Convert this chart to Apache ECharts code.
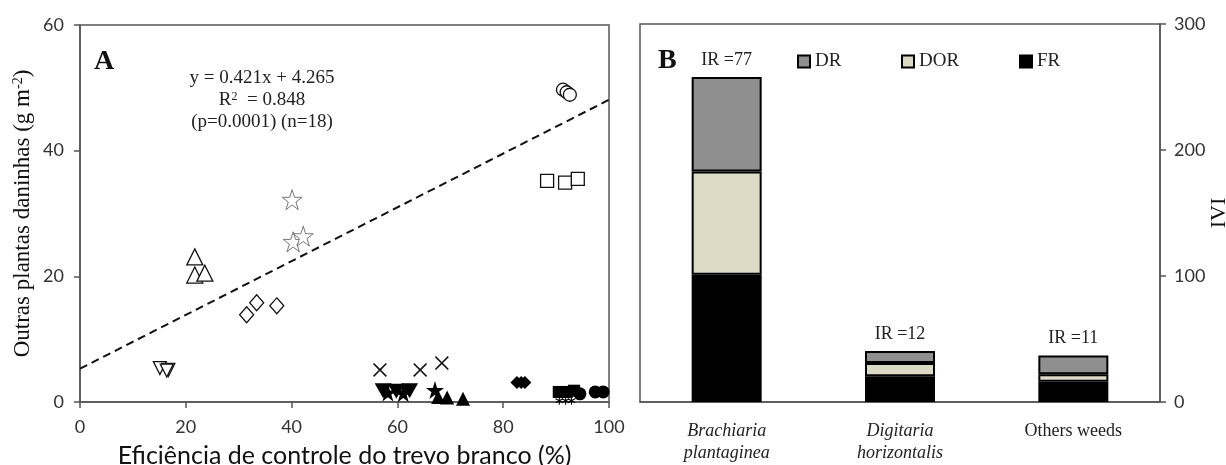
<!DOCTYPE html>
<html><head><meta charset="utf-8">
<script src="https://cdn.jsdelivr.net/npm/echarts@6/dist/echarts.min.js"></script>
<style>html,body{margin:0;padding:0;background:#fff}#c{width:1226px;height:465px}</style>
</head><body><div id="c"></div>
<script>
// ---------- Panel A data (x = control efficiency %, y = other weeds g m-2) ----------
const openCircles   = [[91.3,49.7],[92.0,49.3],[92.6,48.9]];
const openSquares   = [[88.3,35.2],[91.7,34.9],[94.1,35.5]];
const openStars     = [[40.1,32.2],[40.3,25.5],[42.2,26.4]];
const openTriangles = [[21.7,23.1],[21.7,20.2],[23.6,20.5]];
const openDiamonds  = [[31.5,13.9],[33.4,15.8],[37.2,15.3]];
const openDownTri   = [[15.1,5.4],[16.7,5.1],[16.4,5.0]];
const crosses       = [[56.7,5.1],[64.3,5.1],[68.4,6.2]];
const filledDownTri = [[57.3,1.8],[59.8,1.7],[62.3,1.8]];
const filledStars   = [[58.2,1.5],[61.1,1.4],[67.1,1.9]];
const filledTri     = [[67.7,0.8],[69.4,0.7],[72.4,0.5]];
const filledDiamonds= [[82.6,3.1],[83.4,3.1],[84.1,3.1]];
const filledSquares = [[90.5,1.6],[92.0,1.6],[93.4,1.8]];
const filledCircles = [[94.5,1.3],[97.4,1.6],[98.9,1.6]];
const asterisks     = [[90.6,0.2],[91.8,0.2],[92.9,0.2]];
const regressionLine = [[0,5.3],[100,48.1]];
const equationLines = ['y = 0.421x + 4.265', 'R{sup|2}  = 0.848', '(p=0.0001) (n=18)'];

// ---------- Panel B data ----------
const categories = ['Brachiaria\nplantaginea', 'Digitaria\nhorizontalis', 'Others weeds'];
const frValues  = [101, 20.5, 16];
const dorValues = [82, 10.5, 6];
const drValues  = [75, 9.5, 15];
const irLabels  = ['IR =77', 'IR =12', 'IR =11'];

const SERIF = '"Liberation Serif", "DejaVu Serif", serif';
const SANS = 'Lato, "Open Sans", sans-serif';
const STAR = 'path://M50,0 L61.2,34.5 L97.6,34.5 L68.2,55.9 L79.4,90.5 L50,69.1 L20.6,90.5 L31.8,55.9 L2.4,34.5 L38.8,34.5 Z';
const XPATH = 'path://M8,0 L50,42 L92,0 L100,8 L58,50 L100,92 L92,100 L50,58 L8,100 L0,92 L42,50 L0,8 Z';
const ASTER = 'path://M44,0 L56,0 L56,38 L88,20 L94,30 L62,50 L94,70 L88,80 L56,62 L56,100 L44,100 L44,62 L12,80 L6,70 L38,50 L6,30 L12,20 L44,38 Z';

function sc(data, symbol, size, fill, stroke, bw, rotate){
  return {type:'scatter', xAxisIndex:0, yAxisIndex:0, data:data, symbol:symbol,
    symbolSize:size, symbolRotate:rotate||0, z:3,
    itemStyle:{color:fill, borderColor:stroke, borderWidth:bw, opacity:1},
    emphasis:{disabled:true}};
}

const axisColor = '#555';
const legendText = {fontFamily:SERIF, fontSize:19, color:'#222'};
const chart = echarts.init(document.getElementById('c'));
const option = {
  animation:false,
  backgroundColor:'#fff',
  grid:[
    {left:80, right:617, top:25, bottom:63, show:true, borderColor:axisColor, borderWidth:1.5, backgroundColor:'transparent', containLabel:false, outerBoundsMode:'none'},
    {left:640, right:66, top:24, bottom:63, show:true, borderColor:axisColor, borderWidth:1.5, backgroundColor:'transparent', containLabel:false, outerBoundsMode:'none'}
  ],
  legend:[
    {data:['DR'], left:792, top:47, itemWidth:12, itemHeight:12, itemGap:4, icon:'rect', textStyle:legendText},
    {data:['DOR'], left:896, top:47, itemWidth:12, itemHeight:12, itemGap:4, icon:'rect', textStyle:legendText},
    {data:['FR'], left:1014, top:47, itemWidth:12, itemHeight:12, itemGap:4, icon:'rect', textStyle:legendText}
  ],
  xAxis:[
    {type:'value', gridIndex:0, min:0, max:100, interval:20,
     name:'Eficiência de controle do trevo branco (%)', nameLocation:'middle', nameGap:41,
     nameTextStyle:{fontFamily:SANS, fontSize:25, color:'#111'},
     axisLine:{lineStyle:{color:axisColor, width:1.5}}, axisTick:{length:6, lineStyle:{color:axisColor, width:1.5}},
     axisLabel:{fontFamily:SANS, fontSize:18, color:'#333', margin:16}, splitLine:{show:false}},
    {type:'category', gridIndex:1, data:categories,
     axisLine:{lineStyle:{color:axisColor, width:1.5}}, axisTick:{length:6, lineStyle:{color:axisColor, width:1.5}},
     axisLabel:{margin:18, lineHeight:22, formatter:function(v){
        if(v.indexOf('\n')>=0){ return v.split('\n').map(function(s){return '{i|'+s+'}';}).join('\n'); }
        return '{n|'+v+'}'; },
       rich:{i:{fontFamily:SERIF, fontStyle:'italic', fontSize:18, color:'#222', lineHeight:22},
             n:{fontFamily:SERIF, fontSize:18, color:'#222', lineHeight:22}}}}
  ],
  yAxis:[
    {type:'value', gridIndex:0, min:0, max:60, interval:20,
     name:'Outras plantas daninhas (g m{sup|-2})', nameLocation:'middle', nameGap:46,
     nameTextStyle:{fontFamily:SERIF, fontSize:23, color:'#111', rich:{sup:{fontFamily:SERIF, fontSize:14, verticalAlign:'top', lineHeight:16, color:'#111'}}},
     axisLine:{lineStyle:{color:axisColor, width:1.5}}, axisTick:{length:6, lineStyle:{color:axisColor, width:1.5}},
     axisLabel:{fontFamily:SANS, fontSize:18, color:'#333', margin:16}, splitLine:{show:false}},
    {type:'value', gridIndex:1, position:'right', min:0, max:300, interval:100,
     name:'IVI', nameLocation:'middle', nameGap:48, nameMoveOverlap:false,
     nameTextStyle:{fontFamily:SERIF, fontSize:22, color:'#111'},
     axisLine:{show:true, lineStyle:{color:axisColor, width:1.5}}, axisTick:{show:true, length:6, lineStyle:{color:axisColor, width:1.5}},
     axisLabel:{fontFamily:SANS, fontSize:18, color:'#333', margin:14}, splitLine:{show:false}}
  ],
  graphic:[
    {type:'text', left:94, top:48, style:{text:'A', font:'bold 28px '+SERIF, fill:'#111'}},
    {type:'text', left:658, top:47, style:{text:'B', font:'bold 28px '+SERIF, fill:'#111'}},
    {type:'text', x:262, y:78, style:{text:equationLines[0], fontFamily:SERIF, fontSize:19, fill:'#222', align:'center', verticalAlign:'middle'}},
    {type:'text', x:262, y:100, style:{text:equationLines[1], fontFamily:SERIF, fontSize:19, fill:'#222', align:'center', verticalAlign:'middle',
       rich:{sup:{fontFamily:SERIF, fontSize:12, verticalAlign:'top', fill:'#222', padding:[0,0,7,0]}}}},
    {type:'text', x:262, y:122, style:{text:equationLines[2], fontFamily:SERIF, fontSize:19, fill:'#222', align:'center', verticalAlign:'middle'}}
  ],
  series:[
    {type:'line', xAxisIndex:0, yAxisIndex:0, data:regressionLine, symbol:'none', z:2,
     lineStyle:{color:'#111', width:2, type:[8,5]}},
    sc(openCircles,'circle',13,'#fff','#111',1.3),
    sc(openSquares,'rect',13,'#fff','#111',1.3),
    sc(openStars,STAR,20,'#fff','#777',1),
    sc(openTriangles,'triangle',16,'#fff','#111',1.3),
    sc(openDiamonds,'diamond',[14,16],'#fff','#111',1.3),
    sc(openDownTri,'triangle',13,'#fff','#111',1.3,180),
    sc(crosses,XPATH,14,'#111','#111',0),
    sc(filledDownTri,'triangle',[17,15],'#000','#000',0,180),
    sc(filledStars,STAR,18,'#000','#000',0),
    sc(filledTri,'triangle',14,'#000','#000',0),
    sc(filledDiamonds,'diamond',[13,13],'#000','#000',0),
    sc(filledSquares,'rect',12,'#000','#000',0),
    sc(filledCircles,'circle',13,'#000','#000',0),
    sc(asterisks,ASTER,8,'#000','#000',0),
    {type:'bar', name:'FR', xAxisIndex:1, yAxisIndex:1, stack:'ivi', data:frValues, barWidth:70,
     itemStyle:{color:'#000', borderColor:'#000', borderWidth:2}},
    {type:'bar', name:'DOR', xAxisIndex:1, yAxisIndex:1, stack:'ivi', data:dorValues, barWidth:70,
     itemStyle:{color:'#dcd9c4', borderColor:'#000', borderWidth:2}},
    {type:'bar', name:'DR', xAxisIndex:1, yAxisIndex:1, stack:'ivi', data:drValues, barWidth:70,
     itemStyle:{color:'#8f8f8f', borderColor:'#000', borderWidth:2},
     label:{show:true, position:'top', distance:8, fontFamily:SERIF, fontSize:18, color:'#222',
       formatter:function(p){return irLabels[p.dataIndex];}}}
  ]
};
chart.setOption(option);
</script>
</body></html>
